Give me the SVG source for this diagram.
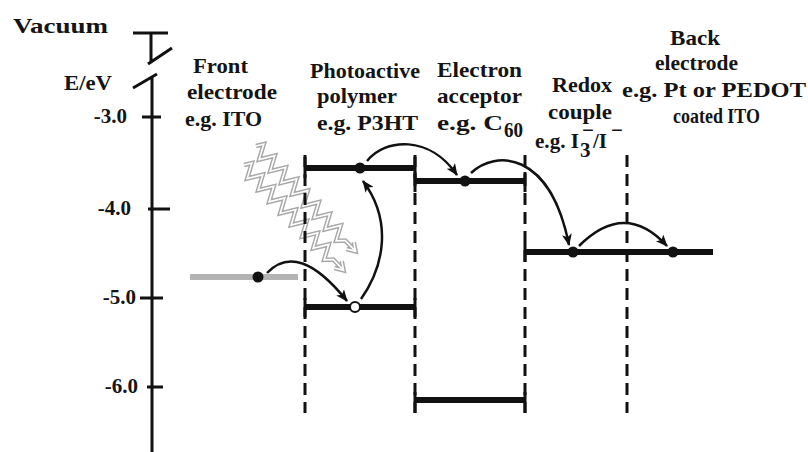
<svg xmlns="http://www.w3.org/2000/svg" width="808" height="452" viewBox="0 0 808 452">
  <style>
    .t { font-family: "Liberation Serif", "Times New Roman", serif; font-weight: bold; fill: #141414; font-size: 21px; }
    .ax { stroke: #111; stroke-width: 3; fill: none; }
    .lvl { stroke: #111; stroke-width: 6; fill: none; }
    .dash { stroke: #111; stroke-width: 3; stroke-dasharray: 12 7; fill: none; }
    .cap { stroke: #111; stroke-width: 3; fill: none; }
    .arr { stroke: #111; stroke-width: 2.5; fill: none; marker-end: url(#ah); }
    .dot { fill: #111; }
    .hole { fill: #fff; stroke: #111; stroke-width: 2; }
    .ph1 { stroke: #a8a8a8; stroke-width: 4.5; fill: none; stroke-linejoin: miter; }
    .ph2 { stroke: #fff; stroke-width: 1.6; fill: none; stroke-linejoin: miter; }
  </style>
  <defs>
    <marker id="ah" viewBox="0 0 12 10" refX="11" refY="5" markerWidth="12" markerHeight="10" markerUnits="userSpaceOnUse" orient="auto">
      <path d="M0,0 L12,5 L0,10 L3,5 z" fill="#111"/>
    </marker>
    <path id="zig" d="M0,0 L4,-7 L12,7 L20,-7 L28,7 L36,-7 L44,7 L52,-7 L60,7 L68,-7 L76,7 L84,-7 L92,7 L100,-7 L108,7 L116,-7 L124,7 L130,0 L144,0 M137,-5 L145,0 L137,5"/>
  </defs>
  <rect width="808" height="452" fill="#fff"/>

  <g id="axis">
    <path class="ax" d="M133,33 H168 M151,33 V63 M148,64 L172,48 M133,88 L157,74 M152,77 V452"/>
    <path class="ax" d="M142,117 H161 M148,209 H170 M140,298 H163 M147,387 H163"/>
    <text class="t" x="13" y="33" font-size="24" textLength="95" lengthAdjust="spacingAndGlyphs">Vacuum</text>
    <text class="t" x="64" y="90" font-size="18" textLength="48" lengthAdjust="spacingAndGlyphs">E/eV</text>
    <text class="t" x="127" y="123" font-size="18" text-anchor="end">-3.0</text>
    <text class="t" x="131" y="215" font-size="18" text-anchor="end">-4.0</text>
    <text class="t" x="136" y="304" font-size="18" text-anchor="end">-5.0</text>
    <text class="t" x="138" y="393" font-size="18" text-anchor="end">-6.0</text>
  </g>

  <g id="front-electrode">
    <line x1="190" y1="277" x2="298" y2="277" stroke="#b3b3b3" stroke-width="6"/>
    <circle class="dot" cx="258" cy="277" r="5.5"/>
    <text class="t" x="193" y="73" textLength="55" lengthAdjust="spacingAndGlyphs">Front</text>
    <text class="t" x="187" y="99" textLength="90" lengthAdjust="spacingAndGlyphs">electrode</text>
    <text class="t" x="185" y="126" textLength="77" lengthAdjust="spacingAndGlyphs">e.g. ITO</text>
  </g>

  <g id="photons">
    <g transform="translate(256,146) rotate(46.6)">
      <use href="#zig" class="ph1"/>
      <use href="#zig" class="ph2"/>
    </g>
    <g transform="translate(244,165) rotate(46.6)">
      <use href="#zig" class="ph1"/>
      <use href="#zig" class="ph2"/>
    </g>
  </g>

  <g id="polymer">
    <path class="dash" d="M305,155 V413"/>
    <path class="dash" d="M415,155 V413"/>
    <path class="cap" d="M305,157 V178 M415,157 V178 M305,298 V317 M415,298 V317"/>
    <line class="lvl" x1="305" y1="168" x2="415" y2="168"/>
    <line class="lvl" x1="305" y1="307" x2="415" y2="307"/>
    <circle class="dot" cx="360" cy="168" r="5.5"/>
    <circle class="hole" cx="355" cy="307" r="5"/>
    <text class="t" x="310" y="78" textLength="110" lengthAdjust="spacingAndGlyphs">Photoactive</text>
    <text class="t" x="317" y="103" textLength="80" lengthAdjust="spacingAndGlyphs">polymer</text>
    <text class="t" x="317" y="130" textLength="101" lengthAdjust="spacingAndGlyphs">e.g. P3HT</text>
  </g>

  <g id="acceptor">
    <path class="dash" d="M525,155 V413"/>
    <path class="cap" d="M415,172 V192 M525,172 V192 M415,392 V413 M525,392 V413"/>
    <line class="lvl" x1="415" y1="181" x2="525" y2="181" stroke-width="7"/>
    <line class="lvl" x1="415" y1="400" x2="525" y2="400" stroke-width="7"/>
    <circle class="dot" cx="465" cy="181" r="5.5"/>
    <text class="t" x="437" y="77" textLength="85" lengthAdjust="spacingAndGlyphs">Electron</text>
    <text class="t" x="437" y="103" textLength="85" lengthAdjust="spacingAndGlyphs">acceptor</text>
    <text class="t" x="437" y="130" textLength="66" lengthAdjust="spacingAndGlyphs">e.g. C</text>
    <text class="t" x="504" y="137" font-size="15" textLength="19" lengthAdjust="spacingAndGlyphs">60</text>
  </g>

  <g id="redox">
    <path class="cap" d="M525,243 V262"/>
    <line class="lvl" x1="525" y1="252" x2="627" y2="252"/>
    <circle class="dot" cx="573" cy="252" r="5.5"/>
    <text class="t" x="552" y="92" textLength="60" lengthAdjust="spacingAndGlyphs">Redox</text>
    <text class="t" x="548" y="119" textLength="64" lengthAdjust="spacingAndGlyphs">couple</text>
    <text class="t" x="535" y="148" textLength="44" lengthAdjust="spacingAndGlyphs">e.g. I</text>
    <text class="t" x="580" y="157" font-size="14">3</text>
    <text class="t" x="582" y="137" font-size="14">−</text>
    <text class="t" x="593" y="148">/I</text>
    <text class="t" x="611" y="137" font-size="14">−</text>
  </g>

  <g id="back-electrode">
    <path class="dash" d="M627,155 V413"/>
    <line class="lvl" x1="627" y1="252" x2="713" y2="252" stroke-width="9"/>
    <circle class="dot" cx="673" cy="252" r="5.5"/>
    <text class="t" x="670" y="45" textLength="50" lengthAdjust="spacingAndGlyphs">Back</text>
    <text class="t" x="655" y="70" textLength="83" lengthAdjust="spacingAndGlyphs">electrode</text>
    <text class="t" x="622" y="97" textLength="184" lengthAdjust="spacingAndGlyphs">e.g. Pt or PEDOT</text>
    <text class="t" x="673" y="123" textLength="87" lengthAdjust="spacingAndGlyphs">coated ITO</text>
  </g>

  <g id="connectors">
    <path class="arr" d="M267,273 Q298,240 347,301"/>
    <path class="arr" d="M361,299 C385,265 392,220 363,181"/>
    <path class="arr" d="M367,161 C385,138 430,135 457,175"/>
    <path class="arr" d="M471,173 C495,150 550,150 569,245"/>
    <path class="arr" d="M579,246 Q625,200 667,246"/>
  </g>
</svg>
